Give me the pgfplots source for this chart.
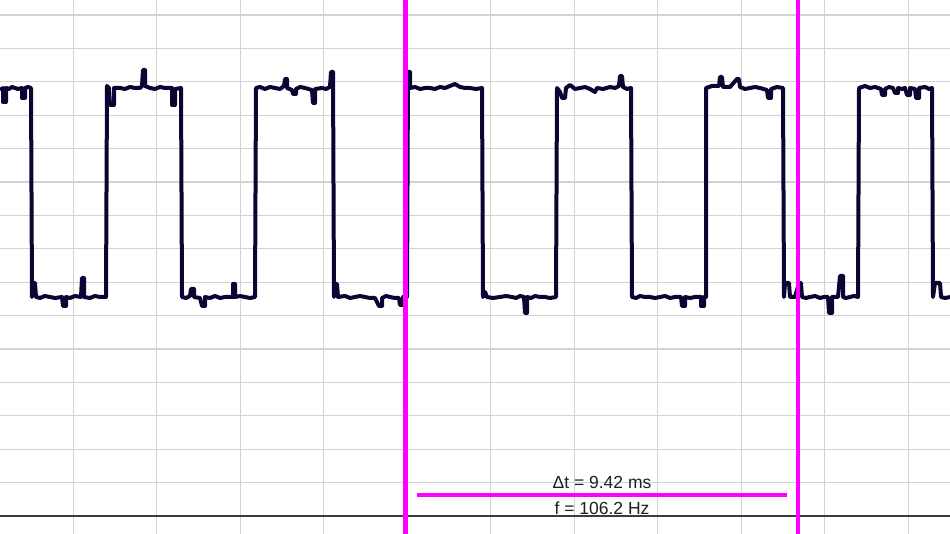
\documentclass[border=0pt]{standalone}
\usepackage{pgfplots}
\pgfplotsset{compat=1.18}
\usepackage{fontspec}
\setmainfont{Liberation Sans}
\definecolor{sig}{RGB}{10,5,50}
\definecolor{cur}{RGB}{255,0,255}
\definecolor{gridc}{RGB}{210,210,210}
\definecolor{axc}{RGB}{60,60,60}
\definecolor{txt}{RGB}{30,30,30}
\begin{document}
\begin{tikzpicture}
\begin{axis}[
  width=950pt, height=534pt, scale only axis,
  xmin=0, xmax=950, ymin=-18, ymax=516,
  axis line style={draw=none},
  xtick={73.3,156.8,...,910}, ytick={33.4,66.8,...,510},
  xticklabels={}, yticklabels={},
  major tick length=0pt,
  grid=major,
  grid style={color=gridc, line width=1.2pt},
  extra y ticks={0}, extra y tick labels={},
  extra y tick style={grid style={color=axc, line width=1.5pt}},
]
% signal: x = sample index, y = level in counts
\addplot[color=sig, line width=4pt, line join=round, line cap=butt] coordinates {
(0,426) (3,428) (3,414) (6,414) (6,428) (9,427) (12,429) (15,428) (18,427) (22,428) (22,418) (25,418) (25,428) (28,429) (31,428)
(32,219) (33,233) (35,233) (36,219) (40,218) (45,220) (50,219) (55,218) (62,219) (63,210) (66,210) (66,219) (70,218) (75,220) (81,219) (82,238) (84,238) (84,219) (90,218) (95,220) (100,219) (106,219)
(107,430) (109,428) (110,411) (114,411) (114,428) (120,428) (125,427) (130,429) (135,428) (140,428) (142,430) (143,446) (145,446) (145,430) (150,428) (155,427) (160,429) (165,428) (172,428) (172,411) (175,411) (175,427) (181,428)
(182,219) (186,218) (190,220) (191,227) (194,227) (194,219) (200,218) (202,210) (205,210) (205,219) (210,218) (215,220) (220,218) (225,219) (233,219) (233,232) (235,232) (235,219) (240,220) (245,219) (250,218) (255,219)
(256,428) (260,429) (265,427) (270,429) (275,428) (280,427) (284,430) (285,437) (287,437) (287,428) (292,426) (293,422) (296,422) (296,427) (300,429) (305,428) (312,426) (313,413) (315,413) (315,427) (322,428) (326,427) (330,429) (331,444) (333,444)
(334,219) (335,232) (337,232) (338,219) (345,220) (350,218) (355,219) (360,220) (365,219) (370,218) (375,218) (379,210) (382,210) (382,218) (386,220) (390,219) (395,218) (399,218) (400,211) (403,211) (403,219) (407,219)
(408,444) (410,444) (410,428) (415,429) (420,427) (425,428) (430,428) (435,427) (440,429) (445,428) (450,430) (455,432) (460,429) (465,428) (470,428) (476,427) (482,428)
(483,219) (485,224) (487,219) (493,218) (500,219) (506,220) (512,219) (516,218) (520,220) (524,219) (525,203) (527,203) (527,219) (531,218) (535,220) (540,219) (545,219) (550,218) (556,219)
(557,428) (560,424) (562,418) (565,418) (566,428) (570,431) (575,427) (580,428) (585,429) (590,427) (595,424) (597,428) (603,427) (610,429) (615,428) (619,430) (620,440) (622,440) (623,429) (627,427) (631,428)
(632,219) (636,218) (640,220) (645,219) (650,219) (655,218) (660,219) (665,220) (670,218) (675,219) (681,219) (682,210) (685,210) (685,219) (690,218) (695,219) (701,219) (701,210) (704,210) (704,219) (706,219)
(706,428) (712,430) (719,430) (720,439) (722,439) (723,429) (730,429) (737,437) (739,437) (740,429) (745,427) (750,428) (755,429) (760,428) (767,426) (768,418) (771,418) (771,427) (777,429) (783,428)
(784,219) (785,233) (789,233) (790,219) (795,219) (799,233) (801,233) (802,219) (806,218) (810,219) (815,220) (820,218) (824,219) (828,219) (829,203) (832,203) (832,219) (838,219) (840,240) (843,240) (843,219) (846,218) (850,219) (854,220) (858,219)
(859,428) (865,430) (870,428) (875,429) (881,427) (882,421) (885,421) (885,427) (889,429) (893,428) (895,423) (898,423) (898,428) (902,427) (905,428) (907,421) (910,421) (910,428) (915,427) (916,418) (919,418) (919,428) (925,429) (929,427) (932,428)
(933,219) (935,233) (940,233) (941,219) (945,218) (950,219)
};
% cursors
\addplot[color=cur, line width=4.5pt] coordinates {(405.5,-30) (405.5,530)};
\addplot[color=cur, line width=4.5pt] coordinates {(798,-30) (798,530)};
\addplot[color=cur, line width=4pt] coordinates {(417,21) (787,21)};
\node[anchor=base, text=txt, font=\fontsize{17.5}{20}\selectfont, inner sep=0pt] at (axis cs:602,27.7) {Δt = 9.42 ms};
\node[anchor=base, text=txt, font=\fontsize{17.5}{20}\selectfont, inner sep=0pt] at (axis cs:602,1) {f = 106.2 Hz};
\end{axis}
\pgfresetboundingbox
\path[use as bounding box] (current axis.south west) rectangle (current axis.north east);
\end{tikzpicture}
\end{document}
